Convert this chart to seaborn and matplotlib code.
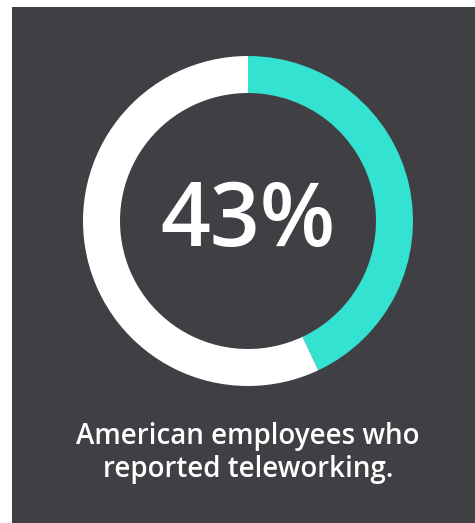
import matplotlib
matplotlib.use("Agg")
import matplotlib.pyplot as plt
import seaborn as sns

# Share of teleworking employees
labels = ["Teleworking", "Other"]
shares = [43, 57]
colors = ["#33e2d0", "#ffffff"]
headline = "43%"
caption = "American employees who\nreported teleworking."

sns.set_theme(style="white")
plt.rcParams["font.family"] = ["Open Sans", "DejaVu Sans"]

W, H = 475, 523
fig = plt.figure(figsize=(W / 100, H / 100), dpi=100)
fig.patch.set_facecolor("white")

# dark panel
panel = fig.add_axes([12 / W, 0, 1 - 12 / W, 1 - 7 / H])
panel.set_facecolor("#403f44")
panel.set_xticks([])
panel.set_yticks([])
for s in panel.spines.values():
    s.set_visible(False)

# donut
cx, cy, r = 248, 221, 165
ax = fig.add_axes([(cx - r) / W, (H - cy - r) / H, 2 * r / W, 2 * r / H])
ax.pie(shares, colors=colors, startangle=90, counterclock=False,
       radius=1.0, wedgeprops=dict(width=37 / 165, linewidth=0))
ax.set_xlim(-1, 1)
ax.set_ylim(-1, 1)
ax.set_aspect("equal")
ax.axis("off")
ax.text(0, -0.01, headline, ha="center", va="center", color="white",
        fontsize=63, fontweight="semibold")

fig.text(248 / W, 1 - 453 / H, caption, ha="center", va="center",
         color="white", fontsize=20, fontweight="semibold", linespacing=1.15)

fig.savefig("out.png", dpi=100, facecolor=fig.get_facecolor())
